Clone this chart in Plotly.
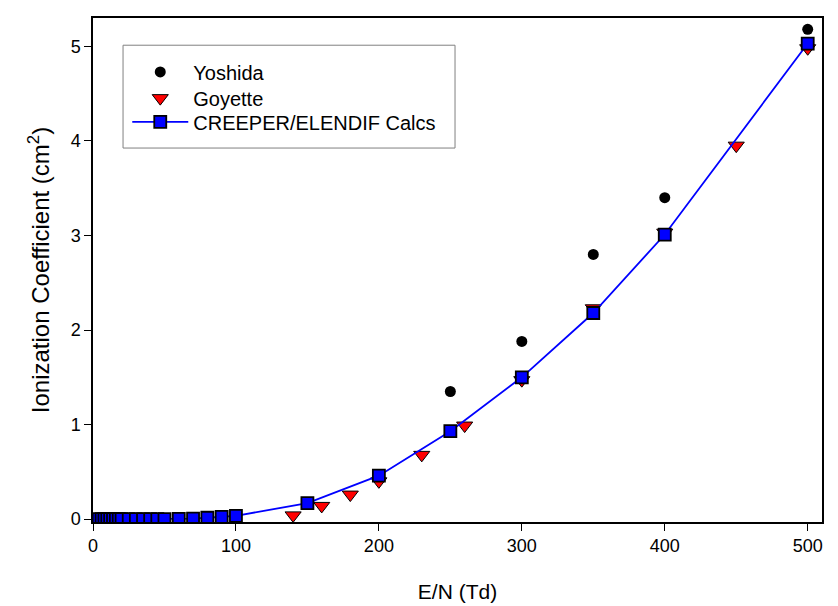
import plotly.graph_objects as go

# Data
creeper_x = [4, 6, 8, 10, 12, 14, 16, 18, 20, 25, 30, 35, 40, 45, 50, 60, 70, 80, 90, 100,
             150, 200, 250, 300, 350, 400, 500]
creeper_y = [0.0, 0.0, 0.0, 0.0, 0.0, 0.0, 0.0, 0.0, 0.0, 0.0, 0.0, 0.0, 0.0, 0.0, 0.0,
             0.003, 0.005, 0.015, 0.025, 0.035,
             0.17, 0.46, 0.93, 1.50, 2.18, 3.01, 5.03]

yoshida_x = [250, 300, 350, 400, 500]
yoshida_y = [1.35, 1.88, 2.80, 3.40, 5.18]

goyette_x = [140, 160, 180, 200, 230, 260, 300, 350, 400, 450, 500]
goyette_y = [0.04, 0.14, 0.26, 0.40, 0.68, 0.99, 1.47, 2.23, 3.03, 3.95, 4.98]

x_ticks = [0, 100, 200, 300, 400, 500]
y_ticks = [0, 1, 2, 3, 4, 5]

fig = go.Figure()

fig.add_trace(go.Scatter(
    x=goyette_x, y=goyette_y, mode="markers", name="Goyette", legend="legend2",
    showlegend=True,
    marker=dict(symbol="triangle-down", size=14, color="#ff0000",
                line=dict(color="black", width=1))))

fig.add_trace(go.Scatter(
    x=creeper_x, y=creeper_y, mode="lines+markers", name="CREEPER/ELENDIF Calcs", legend="legend3",
    showlegend=True,
    line=dict(color="#0000ff", width=1.8),
    marker=dict(symbol="square", size=12, color="#0000ff",
                line=dict(color="black", width=1.8))))

fig.add_trace(go.Scatter(
    x=yoshida_x, y=yoshida_y, mode="markers", name="Yoshida", legend="legend",
    showlegend=True,
    marker=dict(symbol="circle", size=11, color="black",
                line=dict(color="black", width=0))))

font_family = "Liberation Sans, Arial, sans-serif"

def leg(yc):
    return dict(x=0.047, y=yc, xanchor="left", yanchor="middle",
                borderwidth=0, bgcolor="rgba(0,0,0,0)",
                font=dict(size=20), itemwidth=56)

fig.update_layout(
    width=838, height=606,
    showlegend=True,
    margin=dict(l=93, r=16, t=18, b=84),
    paper_bgcolor="white", plot_bgcolor="white",
    font=dict(family=font_family, size=18, color="black"),
    legend=leg(0.893), legend2=leg(0.841), legend3=leg(0.794),
    shapes=[dict(type="rect", xref="paper", yref="paper",
                 x0=0.0412, x1=0.4966, y0=0.742, y1=0.946,
                 line=dict(color="#808080", width=1), fillcolor="white", layer="below")],
    xaxis=dict(
        range=[0, 510], tickvals=x_ticks, ticktext=[str(v) for v in x_ticks],
        showgrid=False, zeroline=False, automargin=False,
        showline=True, linecolor="black", linewidth=1.5, mirror=True,
        ticks="outside", ticklen=7, tickwidth=1.2, tickcolor="black",
        tickfont=dict(size=18),
        title=dict(text="E/N (Td)", font=dict(size=21), standoff=29),
    ),
    yaxis=dict(
        range=[-0.03, 5.3], tickvals=y_ticks, ticktext=[str(v) for v in y_ticks],
        showgrid=False, zeroline=False, automargin=False,
        showline=True, linecolor="black", linewidth=1.5, mirror=True,
        ticks="outside", ticklen=7, tickwidth=1.2, tickcolor="black",
        tickfont=dict(size=18),
        title=dict(text="Ionization Coefficient (cm<sup>2</sup>)", font=dict(size=24), standoff=14),
    ),
)

fig.write_html("out.html", config={"displayModeBar": False},
               post_script="document.body.style.margin='0';")
